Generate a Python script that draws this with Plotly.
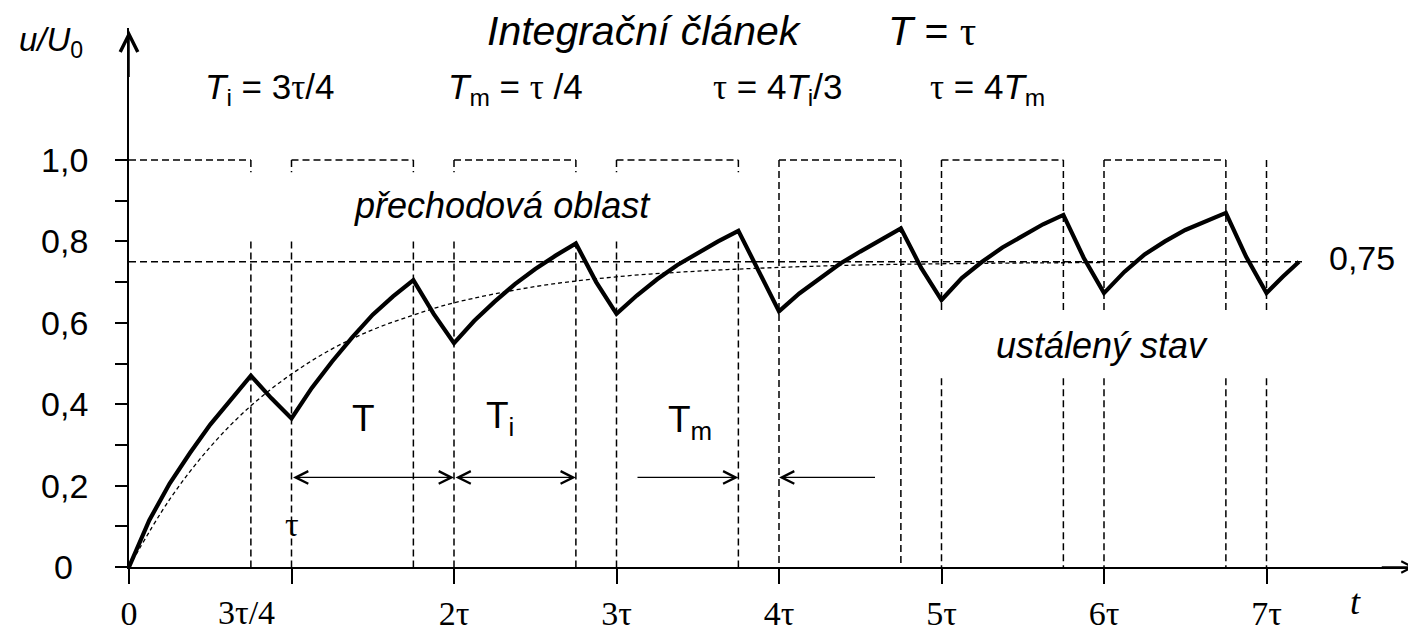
import plotly.graph_objects as go

# ---------------- data ----------------
# output voltage u/U0 of the RC integrator (T = tau), time in units of tau
t_out = [0, 0.125, 0.25, 0.375, 0.5, 0.625, 0.75,
         0.875, 1.0,
         1.125, 1.25, 1.375, 1.5, 1.625, 1.75,
         1.875, 2.0,
         2.125, 2.25, 2.375, 2.5, 2.625, 2.75,
         2.875, 3.0,
         3.125, 3.25, 3.375, 3.5, 3.625, 3.75,
         3.875, 4.0,
         4.125, 4.25, 4.375, 4.5, 4.625, 4.75,
         4.875, 5.0,
         5.125, 5.25, 5.375, 5.5, 5.625, 5.75,
         5.875, 6.0,
         6.125, 6.25, 6.375, 6.5, 6.625, 6.75,
         6.875, 7.0,
         7.1, 7.2]
u_out = [0, 0.115, 0.205, 0.28, 0.35, 0.41, 0.47,
         0.415, 0.365,
         0.44, 0.505, 0.565, 0.62, 0.665, 0.705,
         0.622, 0.55,
         0.605, 0.652, 0.695, 0.732, 0.765, 0.795,
         0.70, 0.622,
         0.667, 0.707, 0.742, 0.772, 0.80, 0.826,
         0.725, 0.628,
         0.672, 0.71, 0.745, 0.775, 0.803, 0.832,
         0.735, 0.656,
         0.71, 0.75, 0.785, 0.815, 0.842, 0.865,
         0.76, 0.673,
         0.725, 0.768, 0.80, 0.828, 0.85, 0.87,
         0.762, 0.673,
         0.713, 0.75]

# dashed envelope (transition towards 0.75)
t_env = [0, 0.25, 0.5, 0.75, 1, 1.25, 1.5, 1.75, 2, 2.5, 3, 3.5, 4, 4.5, 5, 5.5, 6]
u_env = [0, 0.166, 0.295, 0.396, 0.474, 0.536, 0.583, 0.619, 0.649, 0.689,
         0.713, 0.727, 0.736, 0.742, 0.745, 0.747, 0.748]

# input pulses (Ti = 3tau/4, Tm = tau/4), level 1.0
pulse_start = [0, 1, 2, 3, 4, 5, 6]
pulse_end = [0.75, 1.75, 2.75, 3.75, 4.75, 5.75, 6.75]
pulse_level = 1.0
extra_edges = [7]
steady_level = 0.75

x_tickvals = [0, 1, 2, 3, 4, 5, 6, 7]
x_ticktext = ["0", "", "2τ", "3τ", "4τ", "5τ", "6τ", "7τ"]
y_tickvals = [0, 0.2, 0.4, 0.6, 0.8, 1.0]
y_ticktext = ["", "0,2", "0,4", "0,6", "0,8", "1,0"]
y_minor = [0.1, 0.3, 0.5, 0.7, 0.9]

X_RANGE = [0, 7.92]
Y_RANGE = [0, 1.3243]

# ---------------- figure ----------------
SANS = "Liberation Sans, Arial, sans-serif"
SERIF = "Liberation Serif, Times New Roman, serif"
TAU = '<span style="font-family:Liberation Serif">τ</span>'

fig = go.Figure()

# dashed pulse outline, split around the two text labels
px, py = [], []
for a, b in zip(pulse_start, pulse_end):
    px += [a, b, None]
    py += [pulse_level, pulse_level, None]
edges = sorted([e for e in pulse_start if e > 0] + pulse_end + extra_edges)
for e in edges:
    if e <= 3.75:
        spans = [(pulse_level, 0.97), (0.80, 0)]
    elif e >= 5:
        spans = [(pulse_level, 0.631), (0.464, 0)]
    else:
        spans = [(pulse_level, 0)]
    for top, bot in spans:
        px += [e, e, None]
        py += [top, bot, None]
fig.add_trace(go.Scatter(x=px, y=py, mode="lines", cliponaxis=False,
                         line=dict(color="black", width=1.5, dash="7px,4px"),
                         hoverinfo="skip", showlegend=False))

# steady-state level 0.75
fig.add_trace(go.Scatter(x=[0, 7.24], y=[steady_level, steady_level], mode="lines",
                         line=dict(color="black", width=1.3, dash="7px,4px"),
                         hoverinfo="skip", showlegend=False))

# envelope
fig.add_trace(go.Scatter(x=t_env, y=u_env, mode="lines", line_shape="spline",
                         line=dict(color="black", width=1.3, dash="4px,3px"),
                         hoverinfo="skip", showlegend=False))

# output curve
fig.add_trace(go.Scatter(x=t_out, y=u_out, mode="lines", cliponaxis=False,
                         line=dict(color="black", width=4.2),
                         hoverinfo="skip", showlegend=False))

ann = []

def arrow(x, y, ax, ay, side="end", size=1.9, width=1.3):
    ann.append(dict(x=x, y=y, ax=ax, ay=ay, xref="x", yref="y", axref="x", ayref="y",
                    text="", showarrow=True, arrowhead=5, startarrowhead=5,
                    arrowside=side, arrowsize=size, startarrowsize=size,
                    arrowwidth=width, arrowcolor="black", standoff=0, startstandoff=0))

# axis arrow heads
arrow(0, 1.318, 0, 1.2, size=2.3, width=1.5)
arrow(7.915, 0, 7.7, 0, size=1.5, width=1.5)
# dimension arrows
arrow(2.0, 0.22, 1.0, 0.22, side="end+start")
arrow(2.75, 0.22, 2.0, 0.22, side="end+start")
arrow(3.75, 0.22, 3.12, 0.22)
arrow(4.0, 0.22, 4.6, 0.22)

def to_paper(x, y):
    return ((x - X_RANGE[0]) / (X_RANGE[1] - X_RANGE[0]),
            (y - Y_RANGE[0]) / (Y_RANGE[1] - Y_RANGE[0]))

def text(x, y, s, size, family=SANS):
    inside = X_RANGE[0] < x < X_RANGE[1] and Y_RANGE[0] < y < Y_RANGE[1]
    if inside:
        d = dict(x=x, y=y, xref="x", yref="y")
    else:
        pxp, pyp = to_paper(x, y)
        d = dict(x=pxp, y=pyp, xref="paper", yref="paper")
    d.update(text=s, showarrow=False, xanchor="center", yanchor="middle",
             font=dict(family=family, size=size, color="black"))
    ann.append(d)

text(3.175, 1.318, "<i>Integrační článek</i>", 41)
text(4.94, 1.318, "<i>T</i> = " + TAU, 41)
text(0.862, 1.175, "<i>T</i><sub>i</sub> = 3" + TAU + "/4", 35)
text(2.38, 1.175, "<i>T</i><sub>m</sub> = " + TAU + " /4", 35)
text(3.99, 1.175, TAU + " = 4<i>T</i><sub>i</sub>/3", 35)
text(5.28, 1.175, TAU + " = 4<i>T</i><sub>m</sub>", 35)
text(-0.48, 1.29, "<i>u/U</i><sub>0</sub>", 33)
text(2.30, 0.889, "<i>přechodová oblast</i>", 36)
text(5.99, 0.545, "<i>ustálený stav</i>", 36)
text(7.59, 0.759, "0,75", 34)
text(1.446, 0.366, "T", 37)
text(2.28, 0.366, "T<sub>i</sub>", 37)
text(3.45, 0.356, "T<sub>m</sub>", 37)
text(1.0, 0.105, "τ", 34, family=SERIF)
text(7.55, -0.086, "<i>t</i>", 36, family=SERIF)
text(0.72, -0.112, "3τ/4", 34, family=SERIF)
text(-0.40, 0.0, "0", 34)

# page body has an 8px margin, compensate so the plot sits where the reference has it
fig.update_layout(
    width=1416, height=634,
    margin=dict(l=121, r=8, t=20, b=75),
    paper_bgcolor="white", plot_bgcolor="white",
    showlegend=False,
    annotations=ann,
    xaxis=dict(range=X_RANGE, showgrid=False, zeroline=False,
               showline=True, linecolor="black", linewidth=1.8,
               automargin=False,
               tickmode="array", tickvals=x_tickvals, ticktext=x_ticktext,
               ticks="outside", ticklen=15, tickwidth=1.5, tickcolor="black",
               ticklabelstandoff=0,
               tickfont=dict(family=SERIF, size=34, color="black")),
    yaxis=dict(range=Y_RANGE, showgrid=False, zeroline=False,
               showline=True, linecolor="black", linewidth=1.8,
               automargin=False,
               tickmode="array", tickvals=y_tickvals, ticktext=y_ticktext,
               ticks="outside", ticklen=12, tickwidth=1.5, tickcolor="black",
               ticklabelstandoff=20,
               minor=dict(tickvals=y_minor, ticks="outside", ticklen=12,
                          tickwidth=1.5, tickcolor="black"),
               tickfont=dict(family=SANS, size=34, color="black")),
)

fig.write_html("out.html")
